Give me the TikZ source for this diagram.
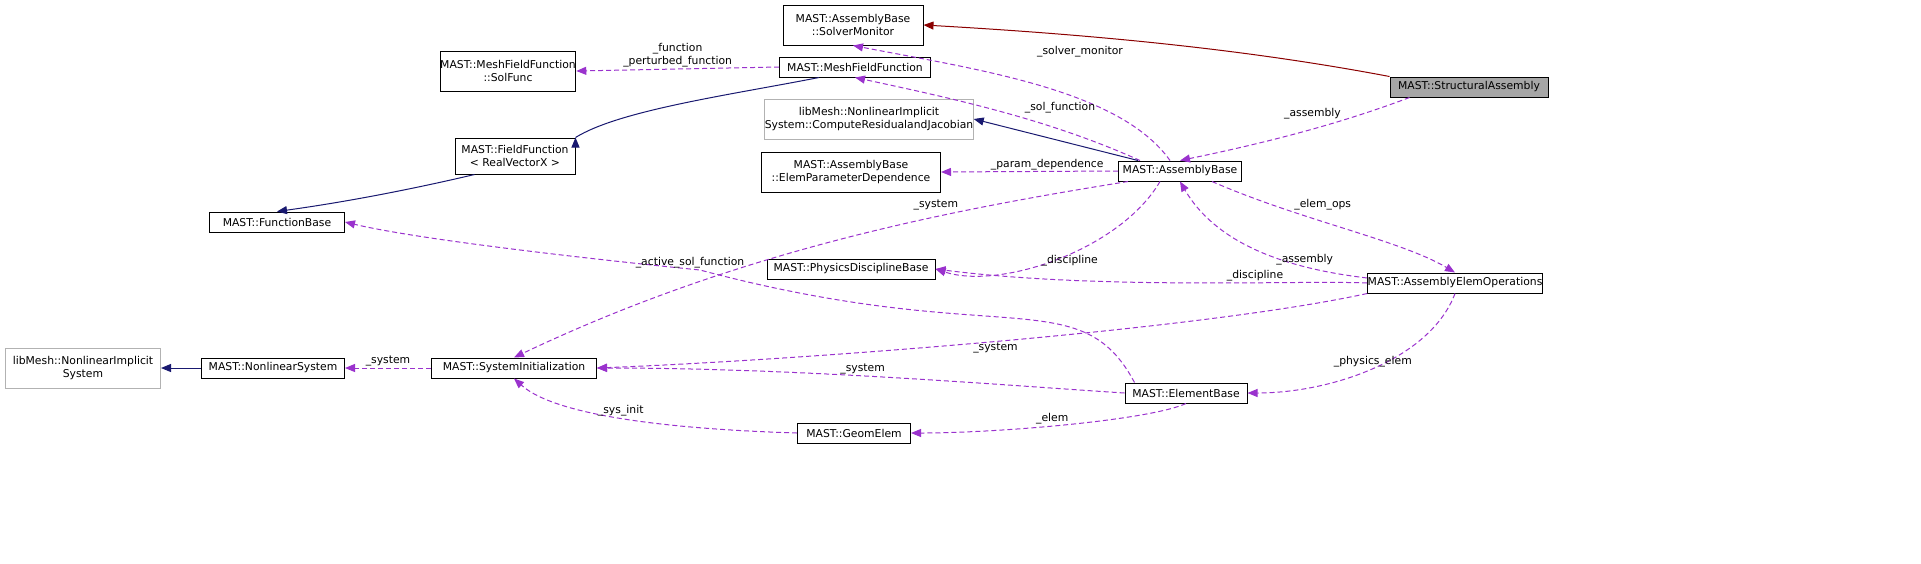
\documentclass[tikz,border=0pt]{standalone}
\usepackage{fontspec}
\setmainfont{DejaVu Sans}
\usetikzlibrary{arrows.meta}
\begin{document}
\begin{tikzpicture}[x=1pt,y=-1pt,line width=1pt,
 every node/.style={font=\fontsize{10.8}{13}\selectfont},
 box/.style={draw=black,fill=white,align=center,inner sep=0pt,minimum height=20pt},
 box2/.style={box,minimum height=40pt},
 grey/.style={draw=black!30},
 use/.style={draw={rgb,255:red,154;green,50;blue,205},dash pattern=on 5pt off 3pt,-{Triangle[open,length=10pt,width=8pt,fill={rgb,255:red,154;green,50;blue,205}]}},
 inh/.style={draw={rgb,255:red,25;green,25;blue,112},-{Triangle[length=10pt,width=8pt]}},
 inh2/.style={draw={rgb,255:red,139;green,0;blue,0},-{Triangle[length=10pt,width=8pt]}},
 lab/.style={fill=none,inner sep=1pt}]
\useasboundingbox (0,0) rectangle (1921,563);
\node[box2,minimum width=140pt] (sm) at (853,25) {MAST::AssemblyBase\\::SolverMonitor};
\node[box,minimum width=158pt,fill=black!35] (sa) at (1469,87) {MAST::StructuralAssembly};
\node[box,minimum width=151pt] (mff) at (855,67) {MAST::MeshFieldFunction};
\node[box2,minimum width=135pt] (sf) at (508,71) {MAST::MeshFieldFunction\\::SolFunc};
\node[box2,minimum width=194pt,grey] (cr) at (869,119) {libMesh::NonlinearImplicit\\System::ComputeResidualandJacobian};
\node[box,minimum width=120pt,minimum height=36pt] (ff) at (515,156) {MAST::FieldFunction\\< RealVectorX >};
\node[box2,minimum width=179pt] (epd) at (851,172) {MAST::AssemblyBase\\::ElemParameterDependence};
\node[box,minimum width=123pt] (ab) at (1180,171) {MAST::AssemblyBase};
\node[box,minimum width=135pt] (fb) at (277,222) {MAST::FunctionBase};
\node[box,minimum width=168pt] (pdb) at (851,269) {MAST::PhysicsDisciplineBase};
\node[box,minimum width=166pt] (aeo) at (1455,283) {MAST::AssemblyElemOperations};
\node[box2,minimum width=155pt,grey] (nis) at (83,368) {libMesh::NonlinearImplicit\\System};
\node[box,minimum width=143pt] (ns) at (273,368) {MAST::NonlinearSystem};
\node[box,minimum width=165pt] (si) at (514,368) {MAST::SystemInitialization};
\node[box,minimum width=122pt] (eb) at (1186,393) {MAST::ElementBase};
\node[box,minimum width=113pt] (ge) at (854,433) {MAST::GeomElem};

\draw[inh2] (sa.north west) .. controls (1250,50) and (1100,35) .. (sm.east);
\draw[use] (sa.south west) ++(20,0) .. controls (1350,120) and (1280,140) .. (ab.north) node[lab,pos=0.35,above left]{\_assembly};
\draw[use] (ab.north) ++(-10,0) .. controls (1120,90) and (980,70) .. (sm.south);
\node[lab] (lsm) at (1080,52) {\_solver\_monitor};
\draw[use] (ab.north) ++(-40,0) .. controls (1050,120) and (960,100) .. (mff.south);
\node[lab] (lsf) at (1060,108) {\_sol\_function};
\draw[inh] (ab.north west) ++(20,0) -- (cr.east);
\draw[use] (ab.west) -- (epd.east) node[lab,pos=0.4,above]{\_param\_dependence};
\draw[use] (ab.south west) ++(10,0) .. controls (950,210) and (740,250) .. (si.north) node[lab,pos=0.3,above left]{\_system};
\draw[use] (ab.south) ++(-20,0) .. controls (1120,250) and (1000,290) .. (pdb.east) node[lab,pos=0.45,below]{\_discipline};
\draw[use] (ab.south east) ++(-30,0) .. controls (1300,220) and (1400,240) .. (aeo.north) node[lab,pos=0.3,above right]{\_elem\_ops};
\draw[use] (aeo.west) ++(0,-5) .. controls (1300,270) and (1220,250) .. (ab.south) node[lab,pos=0.3,above]{\_assembly};
\draw[use] (aeo.west) .. controls (1300,280) and (1100,290) .. (pdb.east) node[lab,pos=0.35,above]{\_discipline};
\draw[use] (aeo.south west) .. controls (1200,330) and (800,360) .. (si.east) node[lab,pos=0.5,below]{\_system};
\draw[use] (aeo.south) .. controls (1430,360) and (1330,393) .. (eb.east) node[lab,pos=0.5,above]{\_physics\_elem};
\draw[use] (mff.west) -- (sf.east) node[lab,pos=0.5,above,align=center]{\_function\\\_perturbed\_function};
\draw[inh] (mff.south west) ++(40,0) .. controls (730,95) and (620,110) .. (ff.north east) ++(0,0);
\draw[inh] (ff.south west) ++(20,0) .. controls (430,185) and (360,200) .. (fb.north);
\draw[use] (eb.north west) ++(10,0) .. controls (1080,280) and (1000,350) .. (700,270) .. controls (600,260) and (420,240) .. (fb.east);
\node[lab] (asf) at (690,263) {\_active\_sol\_function};
\draw[use] (eb.west) .. controls (1000,385) and (800,368) .. (si.east) node[lab,pos=0.55,above]{\_system};
\draw[use] (eb.south) .. controls (1150,420) and (1000,433) .. (ge.east) node[lab,pos=0.55,above]{\_elem};
\draw[use] (ge.west) .. controls (700,430) and (560,420) .. (si.south) node[lab,pos=0.55,above]{\_sys\_init};
\draw[use] (si.west) -- (ns.east) node[lab,pos=0.5,above]{\_system};
\draw[inh] (ns.west) -- (nis.east);
\end{tikzpicture}
\end{document}
